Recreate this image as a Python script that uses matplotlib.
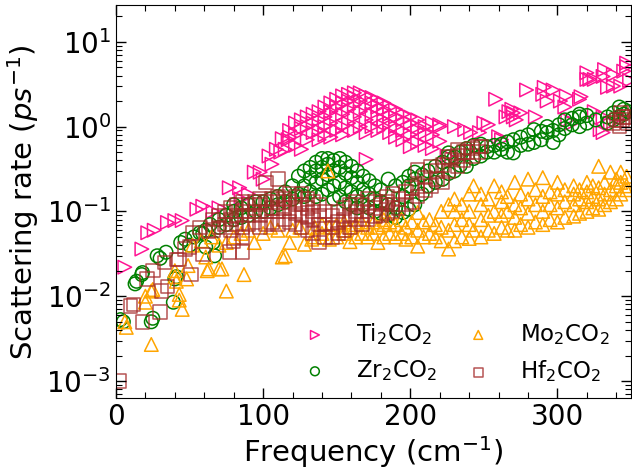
import numpy as np
import matplotlib
matplotlib.use('Agg')
import matplotlib.pyplot as plt
from matplotlib.ticker import MultipleLocator

# (frequency cm^-1, scattering rate ps^-1)
ti_pts = [
    (6, 0.022), (17.6, 0.036), (21.6, 0.056), (26, 0.06), (35, 0.074), (40, 0.078), (45, 0.078),
    (55, 0.106), (59, 0.115), (66, 0.10), (70, 0.11), (77, 0.19), (84, 0.19), (85, 0.14),
    (90, 0.16), (94, 0.29), (98, 0.29), (100, 0.24), (104, 0.45), (106, 0.36), (109, 0.54),
    (112, 0.5), (113, 0.72), (115, 0.54), (117, 0.7),
    (118, 0.75), (118, 0.9), (122, 1.1), (122, 0.8), (122, 0.6), (126, 0.54), (126, 0.95), (126, 1.2),
    (130, 1.0), (130, 1.3), (130, 0.7), (134, 0.85), (134, 1.1), (134, 1.4),
    (138, 0.9), (138, 1.2), (138, 1.5), (138, 0.7), (142, 1.0), (142, 1.3), (142, 1.7), (142, 0.8),
    (146, 1.1), (146, 1.5), (146, 1.9), (146, 0.75), (150, 0.9), (150, 1.3), (150, 1.7), (150, 2.1),
    (154, 1.0), (154, 1.4), (154, 1.9), (154, 2.3), (154, 0.8), (158, 1.1), (158, 1.6), (158, 2.0), (158, 2.4),
    (162, 0.9), (162, 1.3), (162, 1.8), (162, 2.2), (162, 2.5), (166, 1.0), (166, 1.5), (166, 2.0), (166, 2.5),
    (170, 0.85), (170, 1.2), (170, 1.7), (170, 2.3), (170, 0.41), (174, 1.0), (174, 1.4), (174, 1.9), (174, 2.2),
    (178, 0.9), (178, 1.3), (178, 1.7), (178, 2.0), (182, 1.0), (182, 1.2), (182, 1.6), (182, 1.9),
    (186, 0.85), (186, 1.1), (186, 1.4), (186, 1.7), (190, 0.75), (190, 1.0), (190, 1.3), (190, 1.6),
    (195, 0.7), (195, 0.9), (195, 1.2), (195, 1.4), (200, 0.58), (200, 0.8), (200, 1.1), (200, 1.3),
    (205, 0.65), (205, 0.9), (205, 1.0), (205, 1.2), (210, 0.6), (210, 0.85), (210, 1.0),
    (215, 0.55), (215, 0.8), (215, 1.1), (220, 0.67), (220, 1.0), (220, 1.05), (225, 0.45),
    (230, 1.0), (237, 0.92), (241, 0.85), (247, 0.85), (250, 1.1), (253, 1.05), (258, 2.1),
    (260, 0.76), (262, 0.7), (265, 1.3), (267, 1.5), (269, 1.6), (270, 1.3), (270, 1.45),
    (272, 1.2), (275, 1.45), (279, 2.7), (285, 1.3), (290, 2.4), (291, 2.9), (293, 2.0),
    (297, 2.7), (302, 2.0), (305, 1.7), (306, 2.3), (307, 1.2), (310, 1.1), (315, 2.1),
    (316, 2.25), (320, 4.3), (320, 3.6), (322, 3.6), (325, 3.6), (325, 1.5), (329, 0.92),
    (331, 3.9), (331, 0.85), (331, 1.3), (332, 4.7), (334, 2.9), (336, 1.1), (338, 4.1),
    (338, 3.0), (343, 3.0), (343, 1.3), (345, 4.5), (347, 5.1), (347, 5.6), (349, 3.5),
]

zr_pts = [
    (3, 0.0053), (5, 0.005), (13, 0.014), (14, 0.015), (17.5, 0.018), (18, 0.019), (24, 0.005),
    (25, 0.0055), (28, 0.03), (30, 0.028), (34, 0.033), (39, 0.0085), (40, 0.016), (41, 0.017),
    (44, 0.043), (47, 0.047), (50, 0.04), (53, 0.05), (57, 0.056), (59, 0.055), (61, 0.06),
    (61, 0.038), (64, 0.07), (66, 0.043), (67, 0.03),
    (70, 0.065), (70, 0.08), (75, 0.07), (75, 0.09), (80, 0.08), (80, 0.1), (80, 0.12),
    (85, 0.085), (85, 0.11), (90, 0.09), (90, 0.12), (95, 0.1), (95, 0.13), (100, 0.1), (100, 0.13),
    (105, 0.11), (105, 0.14), (110, 0.12), (110, 0.15), (115, 0.13), (115, 0.17), (120, 0.14), (120, 0.2),
    (124, 0.16), (124, 0.26), (128, 0.15), (128, 0.2), (128, 0.3), (132, 0.17), (132, 0.25), (132, 0.33),
    (136, 0.15), (136, 0.22), (136, 0.3), (136, 0.38), (140, 0.16), (140, 0.24), (140, 0.33), (140, 0.42),
    (144, 0.18), (144, 0.27), (144, 0.36), (144, 0.42), (148, 0.14), (148, 0.2), (148, 0.3), (148, 0.4),
    (152, 0.15), (152, 0.22), (152, 0.33), (152, 0.42), (156, 0.13), (156, 0.19), (156, 0.28), (156, 0.38),
    (160, 0.12), (160, 0.17), (160, 0.25), (160, 0.34), (164, 0.11), (164, 0.15), (164, 0.22), (164, 0.3),
    (168, 0.12), (168, 0.18), (168, 0.26), (172, 0.11), (172, 0.16), (172, 0.23),
    (176, 0.1), (176, 0.14), (176, 0.2), (180, 0.095), (180, 0.13), (180, 0.18),
    (185, 0.09), (185, 0.12), (185, 0.24), (190, 0.085), (190, 0.11), (190, 0.2),
    (195, 0.097), (195, 0.15), (195, 0.22), (199, 0.106), (199, 0.2), (199, 0.26),
    (203, 0.12), (203, 0.24), (203, 0.29), (208, 0.16), (208, 0.27), (212, 0.2), (212, 0.3),
    (217, 0.22), (217, 0.34), (222, 0.24), (222, 0.38), (226, 0.28), (226, 0.44), (226, 0.49),
    (230, 0.3), (230, 0.44), (234, 0.35), (234, 0.5), (238, 0.34), (238, 0.55), (243, 0.42), (243, 0.6),
    (248, 0.45), (248, 0.62), (252, 0.5), (252, 0.58), (257, 0.5), (257, 0.6), (262, 0.54), (262, 0.62),
    (266, 0.5), (266, 0.66), (270, 0.49), (270, 0.7), (275, 0.6), (275, 0.75), (280, 0.62), (280, 0.8),
    (284, 0.65), (284, 0.92), (289, 0.7), (289, 0.88), (293, 0.85), (293, 1.0), (297, 0.65), (297, 0.9),
    (301, 0.8), (301, 1.05), (305, 0.95), (305, 1.2), (310, 1.05), (310, 1.25),
    (315, 1.0), (315, 1.3), (315, 1.4), (320, 1.1), (320, 1.35), (326, 1.2), (334, 1.3), (334, 1.1),
    (338, 1.2), (338, 1.45), (342, 1.3), (342, 1.7), (345, 1.6), (345, 1.4), (348, 1.5),
]

mo_pts = [
    (6, 0.005), (7, 0.0043), (20, 0.01), (20, 0.0085), (24, 0.0027), (25, 0.012), (24, 0.0115),
    (40, 0.02), (40, 0.017), (41, 0.015), (43, 0.009), (43, 0.0105), (45, 0.007), (48, 0.016),
    (49, 0.023), (62, 0.02), (61, 0.029), (63, 0.021), (70, 0.021), (72, 0.021), (75, 0.0115),
    (75, 0.043), (87, 0.018), (94, 0.043), (113, 0.029), (115, 0.03), (118, 0.043), (128, 0.041),
    (133, 0.047), (52, 0.04), (58, 0.045), (65, 0.05), (70, 0.04), (80, 0.05), (85, 0.055),
    (90, 0.06), (100, 0.055), (105, 0.065), (110, 0.06), (120, 0.06), (125, 0.065),
    (135, 0.05), (135, 0.065), (140, 0.055), (140, 0.07), (145, 0.047), (145, 0.065),
    (150, 0.05), (150, 0.07), (155, 0.055), (155, 0.075), (155, 0.06), (159, 0.044), (159, 0.065),
    (163, 0.05), (163, 0.07), (167, 0.055), (167, 0.075), (171, 0.05), (171, 0.065),
    (175, 0.055), (175, 0.075), (178, 0.043), (178, 0.065), (182, 0.05), (182, 0.07), (182, 0.08),
    (186, 0.055), (186, 0.075), (190, 0.05), (190, 0.07), (194, 0.055), (194, 0.08),
    (197, 0.047), (197, 0.065), (201, 0.05), (201, 0.075), (205, 0.039), (205, 0.06), (205, 0.097),
    (209, 0.05), (209, 0.075), (213, 0.055), (213, 0.08), (217, 0.05), (217, 0.07),
    (221, 0.045), (221, 0.065), (221, 0.1), (226, 0.036), (226, 0.06), (226, 0.12),
    (230, 0.045), (230, 0.07), (230, 0.1), (230, 0.14), (235, 0.05), (235, 0.08), (235, 0.12),
    (240, 0.048), (240, 0.07), (240, 0.1), (240, 0.16), (243, 0.06), (243, 0.2),
    (248, 0.05), (248, 0.08), (248, 0.12), (248, 0.16), (253, 0.06), (253, 0.09), (253, 0.14),
    (257, 0.055), (257, 0.1), (257, 0.2), (262, 0.065), (262, 0.09), (262, 0.13), (262, 0.17),
    (266, 0.06), (266, 0.1), (266, 0.15), (271, 0.06), (271, 0.085), (271, 0.12), (271, 0.22),
    (275, 0.07), (275, 0.11), (275, 0.16), (280, 0.065), (280, 0.095), (280, 0.14), (280, 0.24),
    (285, 0.075), (285, 0.12), (285, 0.18), (290, 0.07), (290, 0.1), (290, 0.15), (290, 0.25),
    (295, 0.08), (295, 0.12), (295, 0.17), (300, 0.075), (300, 0.11), (300, 0.16), (300, 0.22),
    (305, 0.085), (305, 0.13), (305, 0.18), (311, 0.088), (311, 0.12), (311, 0.16), (311, 0.2),
    (315, 0.095), (315, 0.14), (315, 0.18), (320, 0.1), (320, 0.13), (320, 0.17), (320, 0.22),
    (324, 0.11), (324, 0.15), (324, 0.2), (328, 0.106), (328, 0.14), (328, 0.19), (328, 0.34),
    (332, 0.12), (332, 0.16), (332, 0.22), (336, 0.13), (336, 0.18), (336, 0.29),
    (340, 0.14), (340, 0.2), (340, 0.24), (343, 0.16), (343, 0.22), (343, 0.29),
    (347, 0.18), (347, 0.2), (347, 0.26), (144, 0.3),
]

hf_pts = [
    (2, 0.001), (10, 0.0077), (12, 0.008), (18, 0.005), (21, 0.016), (25, 0.02), (30, 0.0065),
    (31, 0.0115), (35, 0.013), (33, 0.025), (41, 0.027), (43, 0.027), (47, 0.036), (50, 0.038),
    (51, 0.018), (52, 0.056), (57, 0.065), (59, 0.031), (63, 0.058), (77, 0.033), (86, 0.033),
    (86, 0.05), (80, 0.045),
    (66, 0.06), (66, 0.08), (70, 0.065), (70, 0.09), (74, 0.07), (74, 0.1),
    (78, 0.06), (78, 0.08), (78, 0.11), (82, 0.07), (82, 0.09), (82, 0.12),
    (86, 0.065), (86, 0.1), (86, 0.13), (90, 0.07), (90, 0.09), (90, 0.12),
    (94, 0.075), (94, 0.1), (94, 0.13), (98, 0.065), (98, 0.09), (98, 0.12), (98, 0.14),
    (102, 0.07), (102, 0.1), (102, 0.13), (102, 0.22), (106, 0.075), (106, 0.11), (106, 0.14),
    (110, 0.07), (110, 0.1), (110, 0.13), (110, 0.15), (110, 0.24), (114, 0.08), (114, 0.11), (114, 0.14),
    (118, 0.075), (118, 0.1), (118, 0.13), (118, 0.16), (122, 0.07), (122, 0.095), (122, 0.12), (122, 0.15),
    (126, 0.065), (126, 0.09), (126, 0.12), (126, 0.16), (130, 0.06), (130, 0.085), (130, 0.11), (130, 0.14),
    (134, 0.055), (134, 0.08), (134, 0.1), (134, 0.13), (138, 0.043), (138, 0.07), (138, 0.09), (138, 0.12),
    (142, 0.05), (142, 0.07), (142, 0.1), (147, 0.05), (147, 0.065), (147, 0.09),
    (151, 0.055), (151, 0.075), (151, 0.1), (155, 0.06), (155, 0.08), (155, 0.11),
    (159, 0.065), (159, 0.09), (159, 0.12), (163, 0.08), (163, 0.1), (163, 0.13),
    (167, 0.07), (167, 0.09), (167, 0.12), (171, 0.08), (171, 0.1), (171, 0.14),
    (176, 0.087), (176, 0.11), (176, 0.13), (180, 0.09), (180, 0.12),
    (184, 0.095), (184, 0.13), (184, 0.15), (188, 0.1), (188, 0.12), (188, 0.16),
    (192, 0.11), (192, 0.14), (197, 0.12), (197, 0.17), (201, 0.13), (201, 0.19),
    (205, 0.15), (205, 0.2), (205, 0.31), (210, 0.18), (210, 0.25), (214, 0.2), (214, 0.34),
    (218, 0.24), (218, 0.3), (222, 0.22), (222, 0.35), (226, 0.3), (226, 0.44), (228, 0.41),
    (232, 0.34), (232, 0.54), (232, 0.45), (236, 0.4), (236, 0.5), (239, 0.5),
    (242, 0.45), (242, 0.55), (246, 0.58), (246, 0.5), (248, 0.58),
    (338, 1.1), (340, 1.2), (342, 1.0), (343, 1.45), (345, 1.3), (347, 1.3), (348, 1.1), (344, 1.2),
]

series = [
    ('Ti$_2$CO$_2$', ti_pts, '>', '#ff1493', 1.0),
    ('Zr$_2$CO$_2$', zr_pts, 'o', 'green', 1.0),
    ('Mo$_2$CO$_2$', mo_pts, '^', 'orange', 1.0),
    ('Hf$_2$CO$_2$', hf_pts, 's', 'brown', 0.8),
]

fig = plt.figure(figsize=(6.32, 4.70), dpi=100)
ax = fig.add_axes([0.1835, 0.153, 0.815, 0.836])

for name, pts, mk, col, a in series:
    x, y = np.array(pts).T
    ax.scatter(x, y, marker=mk, s=95, facecolors='none', edgecolors=col,
               linewidths=1.1, alpha=a, label=name)

ax.set_yscale('log')
ax.set_xlim(0, 350)
ax.set_ylim(6.3e-4, 27)
ax.xaxis.set_minor_locator(MultipleLocator(20))
ax.xaxis.set_major_locator(MultipleLocator(100))
ax.tick_params(which='both', direction='in', top=True, right=True, labelsize=20)
ax.tick_params(which='major', length=7, width=1)
ax.tick_params(which='minor', length=4, width=0.8)

ax.set_xlabel('Frequency (cm$^{-1}$)', fontsize=21, labelpad=2)
ax.set_ylabel('Scattering rate ($ps^{-1}$)', fontsize=21)

ax.legend(loc='lower right', bbox_to_anchor=(0.975, 0.012), ncol=2, frameon=False,
          fontsize=16.5, markerscale=0.65, handletextpad=0.8, columnspacing=0.8,
          borderaxespad=0)

fig.savefig('out.png', dpi=100)
